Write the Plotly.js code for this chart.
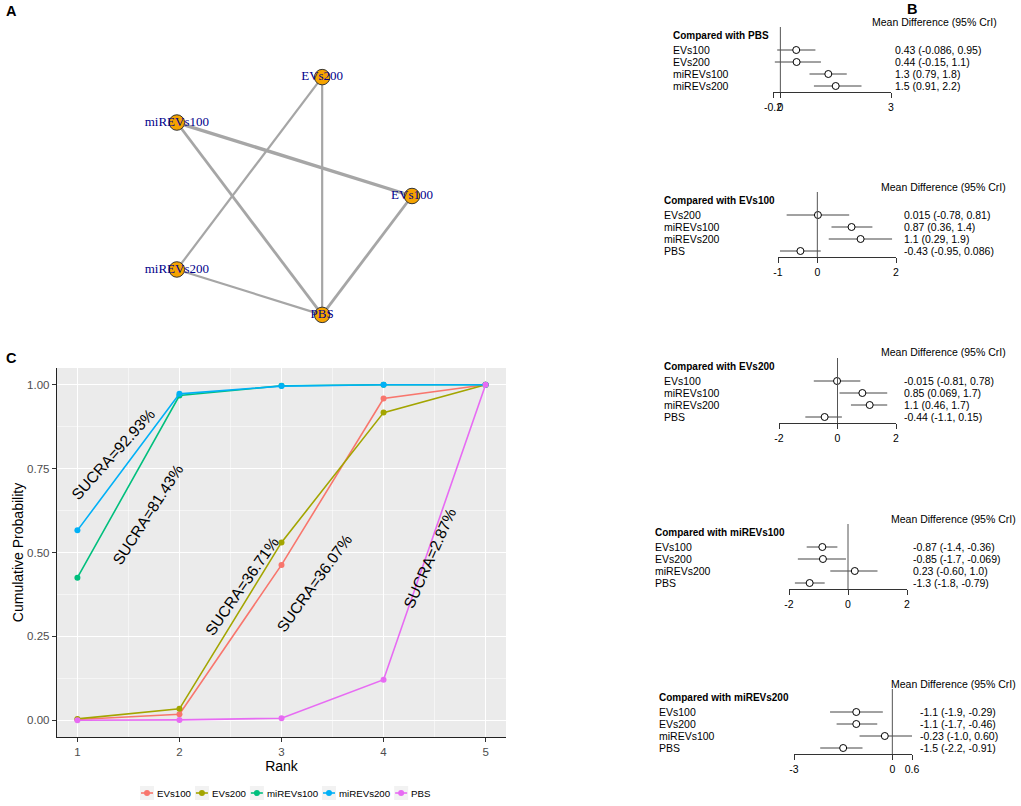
<!DOCTYPE html>
<html><head><meta charset="utf-8">
<script src="https://cdn.plot.ly/plotly-3.0.1.min.js"></script>
<style>html,body{margin:0;padding:0;background:#fff}</style>
</head><body><div id="chart" style="width:1021px;height:806px"></div>
<script>
// ---------------- DATA ----------------
const treatments = ["EVs100", "EVs200", "miREVs100", "miREVs200", "PBS"];
const ranks = [1, 2, 3, 4, 5];
// Panel C: cumulative ranking probabilities
const cumEVs100    = [0.002, 0.018, 0.463, 0.959, 1.0];
const cumEVs200    = [0.004, 0.034, 0.530, 0.917, 1.0];
const cumMiREVs100 = [0.425, 0.968, 0.997, 1.0, 1.0];
const cumMiREVs200 = [0.566, 0.973, 0.996, 1.0, 1.0];
const cumPBS       = [0.000, 0.001, 0.006, 0.121, 1.0];
const sucraLabels  = ["SUCRA=36.07%", "SUCRA=36.71%", "SUCRA=81.43%", "SUCRA=92.93%", "SUCRA=2.87%"];

// Panel A: network
const nodes = ["EVs100", "EVs200", "miREVs100", "miREVs200", "PBS"];
const edgeFrom = ["miREVs100", "miREVs100", "EVs100", "EVs200", "EVs200", "miREVs200"];
const edgeTo   = ["EVs100", "PBS", "PBS", "miREVs200", "PBS", "PBS"];
const edgeStudies = [3, 2, 2, 1, 1, 1];

// Panel B: forest plots (mean difference, 95% CrI)
const comparators = ["PBS", "EVs100", "EVs200", "miREVs100", "miREVs200"];
const meanVsPBS = [0.43, 0.44, 1.3, 1.5];
const lowVsPBS  = [-0.086, -0.15, 0.79, 0.91];
const highVsPBS = [0.95, 1.1, 1.8, 2.2];
const ticksVsPBS = [-0.2, 0, 3];
const meanVsEVs100 = [0.015, 0.87, 1.1, -0.43];
const lowVsEVs100  = [-0.78, 0.36, 0.29, -0.95];
const highVsEVs100 = [0.81, 1.4, 1.9, 0.086];
const ticksVsEVs100 = [-1, 0, 2];
const meanVsEVs200 = [-0.015, 0.85, 1.1, -0.44];
const lowVsEVs200  = [-0.81, 0.069, 0.46, -1.1];
const highVsEVs200 = [0.78, 1.7, 1.7, 0.15];
const ticksVsEVs200 = [-2, 0, 2];
const meanVsMiREVs100 = [-0.87, -0.85, 0.23, -1.3];
const lowVsMiREVs100  = [-1.4, -1.7, -0.60, -1.8];
const highVsMiREVs100 = [-0.36, -0.069, 1.0, -0.79];
const ticksVsMiREVs100 = [-2, 0, 2];
const meanVsMiREVs200 = [-1.1, -1.1, -0.23, -1.5];
const lowVsMiREVs200  = [-1.9, -1.7, -1.0, -2.2];
const highVsMiREVs200 = [-0.29, -0.46, 0.60, -0.91];
const ticksVsMiREVs200 = [-3, 0, 0.6];

// ---------------- BUILD ----------------
const W = 1021, H = 806;
const fx = p => p / W, fy = p => 1 - p / H;
const sans = "Liberation Sans, Arial, Helvetica, sans-serif";
const serif = "Liberation Serif, Times New Roman, serif";
const traces = [], annotations = [], shapes = [];
const layout = {
  width: W, height: H, margin: {l: 0, r: 0, t: 0, b: 0},
  paper_bgcolor: '#ffffff', plot_bgcolor: 'rgba(0,0,0,0)',
  hovermode: false, showlegend: false,
  font: {family: sans, color: '#000'}
};

// ----- Panel C -----
const colors = {EVs100: '#F8766D', EVs200: '#A3A500', miREVs100: '#00BF7D', miREVs200: '#00B0F6', PBS: '#E76BF3'};
const cum = [cumEVs100, cumEVs200, cumMiREVs100, cumMiREVs200, cumPBS];
treatments.forEach((t, i) => traces.push({
  type: 'scatter', mode: 'lines+markers', x: ranks, y: cum[i], name: t,
  xaxis: 'x', yaxis: 'y', showlegend: false,
  line: {color: colors[t], width: 1.6}, marker: {color: colors[t], size: 6}
}));
layout.xaxis = {
  domain: [fx(57), fx(506)], range: [0.8, 5.2], anchor: 'y',
  tickmode: 'linear', tick0: 1, dtick: 1, ticks: 'outside', ticklen: 4, tickcolor: '#333',
  tickfont: {size: 11.5, color: '#4D4D4D'},
  showline: true, linecolor: '#222', linewidth: 1.2,
  showgrid: true, gridcolor: '#fff', gridwidth: 1.1, zeroline: false,
  minor: {tick0: 1, dtick: 0.5, showgrid: true, gridcolor: '#fff', gridwidth: 0.5, ticks: ''},
  title: {text: 'Rank', font: {size: 14, color: '#000'}, standoff: 2},
  fixedrange: true
};
layout.yaxis = {
  domain: [fy(737), fy(368)], range: [-0.05, 1.05], anchor: 'x',
  tickmode: 'linear', tick0: 0, dtick: 0.25, tickformat: '.2f',
  ticks: 'outside', ticklen: 4, tickcolor: '#333',
  tickfont: {size: 11.5, color: '#4D4D4D'},
  showline: true, linecolor: '#222', linewidth: 1.2,
  showgrid: true, gridcolor: '#fff', gridwidth: 1.1, zeroline: false,
  minor: {tick0: 0, dtick: 0.125, showgrid: true, gridcolor: '#fff', gridwidth: 0.5, ticks: ''},
  title: {text: 'Cumulative Probability', font: {size: 14, color: '#000'}, standoff: 0},
  fixedrange: true
};
shapes.push({type: 'rect', xref: 'x domain', yref: 'y domain', x0: 0, x1: 1, y0: 0, y1: 1,
  fillcolor: '#EBEBEB', line: {width: 0}, layer: 'below'});
const sucraPos = [
  {x: 3.316, y: 0.409, a: -54},
  {x: 2.609, y: 0.399, a: -55},
  {x: 1.691, y: 0.613, a: -57},
  {x: 1.347, y: 0.793, a: -48},
  {x: 4.45,  y: 0.483, a: -66}
];
sucraLabels.forEach((s, i) => annotations.push({
  xref: 'x', yref: 'y', x: sucraPos[i].x, y: sucraPos[i].y, text: s, showarrow: false,
  textangle: sucraPos[i].a, xanchor: 'center', yanchor: 'middle',
  font: {size: 15.5, color: '#000', family: sans}
}));

// custom ggplot-like legend (bottom of panel C)
(function () {
  const fs = 9.7;
  const ctx = document.createElement('canvas').getContext('2d');
  ctx.font = fs + "px 'Liberation Sans', Arial, sans-serif";
  let x = 140; const yc = 793, key = 14, gap = 2, sep = 5;
  treatments.forEach(t => {
    shapes.push({type: 'rect', xref: 'paper', yref: 'paper', x0: fx(x), x1: fx(x + key),
      y0: fy(yc + key / 2), y1: fy(yc - key / 2), fillcolor: '#F2F2F2', line: {width: 0}});
    shapes.push({type: 'line', xref: 'paper', yref: 'paper', x0: fx(x + 1), x1: fx(x + key - 1),
      y0: fy(yc), y1: fy(yc), line: {color: colors[t], width: 1.6}});
    shapes.push({type: 'circle', xref: 'paper', yref: 'paper', x0: fx(x + key / 2 - 3), x1: fx(x + key / 2 + 3),
      y0: fy(yc + 3), y1: fy(yc - 3), fillcolor: colors[t], line: {width: 0}});
    const tw = ctx.measureText(t).width;
    annotations.push({xref: 'paper', yref: 'paper', x: fx(x + key + gap), y: fy(yc), text: t,
      showarrow: false, xanchor: 'left', yanchor: 'middle', borderpad: 0,
      font: {size: fs, color: '#000'}});
    x += key + gap + tw + sep;
  });
})();

// ----- Panel A: network -----
const ang = nodes.map((_, i) => 2 * Math.PI * i / nodes.length);
const nx = ang.map(Math.cos), ny = ang.map(Math.sin);
const idx = n => nodes.indexOf(n);
edgeFrom.forEach((f, i) => {
  const a = idx(f), b = idx(edgeTo[i]);
  traces.push({type: 'scatter', mode: 'lines', x: [nx[a], nx[b]], y: [ny[a], ny[b]],
    xaxis: 'x2', yaxis: 'y2', showlegend: false,
    line: {color: '#A6A6A6', width: 1.6 + 0.6 * edgeStudies[i]}});
});
traces.push({type: 'scatter', mode: 'markers+text', x: nx, y: ny, text: nodes,
  xaxis: 'x2', yaxis: 'y2', showlegend: false, textposition: 'middle center',
  marker: {size: 15.5, color: '#F5A300', line: {color: '#333', width: 1}},
  textfont: {family: serif, size: 13, color: '#00008B'}, cliponaxis: false});
layout.xaxis2 = {domain: [fx(126), fx(438)], range: [-1.2, 1.2], anchor: 'y2', visible: false, fixedrange: true};
layout.yaxis2 = {domain: [fy(346), fy(46)], range: [-1.2, 1.2], anchor: 'x2', visible: false, fixedrange: true};

// ----- Panel B: forest plots -----
const forestMeans = [meanVsPBS, meanVsEVs100, meanVsEVs200, meanVsMiREVs100, meanVsMiREVs200];
const forestLows  = [lowVsPBS, lowVsEVs100, lowVsEVs200, lowVsMiREVs100, lowVsMiREVs200];
const forestHighs = [highVsPBS, highVsEVs100, highVsEVs200, highVsMiREVs100, highVsMiREVs200];
const forestTicks = [ticksVsPBS, ticksVsEVs100, ticksVsEVs200, ticksVsMiREVs100, ticksVsMiREVs200];
const forestGeom = [
  {T: 21,  x0: 773, x1: 891, lab: 671, val: 893, md: 998},
  {T: 186, x0: 778, x1: 896, lab: 662, val: 902, md: 1007},
  {T: 352, x0: 779, x1: 896, lab: 662, val: 902, md: 1007},
  {T: 518, x0: 789, x1: 907, lab: 653, val: 911, md: 1017},
  {T: 683, x0: 794, x1: 912, lab: 657, val: 918, md: 1017}
];
const fmt = v => Number(v).toPrecision(2);
forestGeom.forEach((g, k) => {
  const ax = k + 3, xa = 'x' + ax, ya = 'y' + ax;
  const rows = treatments.filter(t => t !== comparators[k]);
  const yv = rows.map((_, i) => rows.length - i);
  const m = forestMeans[k], lo = forestLows[k], hi = forestHighs[k];
  traces.push({type: 'scatter', mode: 'markers', x: m, y: yv, xaxis: xa, yaxis: ya, showlegend: false,
    error_x: {type: 'data', symmetric: false, array: m.map((v, i) => hi[i] - v),
      arrayminus: m.map((v, i) => v - lo[i]), color: '#444', thickness: 1, width: 0},
    marker: {symbol: 'circle', size: 7, color: '#fff', line: {color: '#000', width: 1}},
    cliponaxis: false});
  const ticks = forestTicks[k];
  layout['xaxis' + ax] = {
    domain: [fx(g.x0), fx(g.x1)], range: [Math.min(...ticks), Math.max(...ticks)], anchor: ya,
    tickmode: 'array', tickvals: ticks, ticktext: ticks.map(String), tickangle: 0,
    ticks: 'outside', ticklen: 5, tickcolor: '#333', tickwidth: 1,
    showline: true, linecolor: '#333', linewidth: 1, showgrid: false, zeroline: false,
    tickfont: {size: 10.5, color: '#000'}, fixedrange: true
  };
  layout['yaxis' + ax] = {domain: [fy(g.T + 71), fy(g.T + 6)], range: [0.5, 4 + 23 / 12],
    anchor: xa, visible: false, fixedrange: true};
  shapes.push({type: 'line', xref: xa, yref: ya + ' domain', x0: 0, x1: 0, y0: 0, y1: 1,
    line: {color: '#555', width: 1}});
  rows.forEach((r, i) => {
    annotations.push({xref: 'paper', yref: ya, x: fx(g.lab), y: yv[i], text: r, showarrow: false,
      xanchor: 'left', yanchor: 'middle', font: {size: 10.5, color: '#000'}});
    annotations.push({xref: 'paper', yref: ya, x: fx(g.val), y: yv[i],
      text: fmt(m[i]) + ' (' + fmt(lo[i]) + ', ' + fmt(hi[i]) + ')', showarrow: false,
      xanchor: 'left', yanchor: 'middle', font: {size: 10.5, color: '#000'}});
  });
  annotations.push({xref: 'paper', yref: 'paper', x: fx(g.lab), y: fy(g.T + 14.5),
    text: '<b>Compared with ' + comparators[k] + '</b>', showarrow: false,
    xanchor: 'left', yanchor: 'middle', font: {size: 10, color: '#000'}});
  annotations.push({xref: 'paper', yref: 'paper', x: fx(g.md), y: fy(g.T + 0.5),
    text: 'Mean Difference (95% CrI)', showarrow: false,
    xanchor: 'right', yanchor: 'middle', borderpad: 0, font: {size: 10.5, color: '#000'}});
});

// ----- panel letters -----
[['A', 11.5, 10.5], ['B', 912, 9], ['C', 11, 358]].forEach(p => annotations.push({
  xref: 'paper', yref: 'paper', x: fx(p[1]), y: fy(p[2]), text: '<b>' + p[0] + '</b>',
  showarrow: false, xanchor: 'center', yanchor: 'middle', borderpad: 0, font: {size: 14.5, color: '#000'}
}));

layout.annotations = annotations;
layout.shapes = shapes;
Plotly.newPlot('chart', traces, layout, {displayModeBar: false, staticPlot: true});
</script>
</body></html>
